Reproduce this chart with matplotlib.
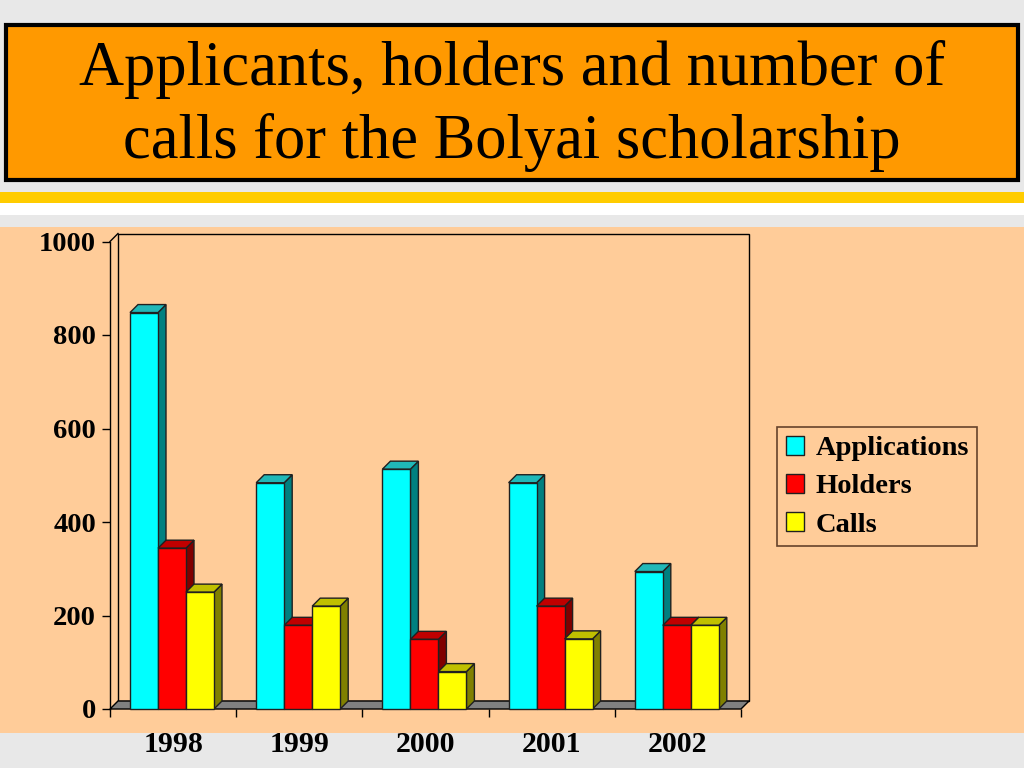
import matplotlib.pyplot as plt
from matplotlib.patches import Rectangle, Polygon, Patch

years = ['1998', '1999', '2000', '2001', '2002']
applications = [848, 484, 513, 484, 294]
holders = [344, 179, 149, 220, 179]
calls = [250, 220, 80, 150, 179]

series = [applications, holders, calls]
names = ['Applications', 'Holders', 'Calls']
front = ['#00FFFF', '#FF0000', '#FFFF00']
side = ['#008080', '#800000', '#808000']
top = ['#20B8B8', '#C00000', '#C0C000']

W, H = 1024, 768
fig = plt.figure(figsize=(W / 100, H / 100), dpi=100)
fig.patch.set_facecolor('#E8E8E8')

# slide decoration
fig.patches.append(Rectangle((0, 1 - 733 / H), 1, (733 - 227) / H, transform=fig.transFigure,
                             facecolor='#FFCC99', edgecolor='none', zorder=-5))
fig.patches.append(Rectangle((0, 1 - 203 / H), 1, 11 / H, transform=fig.transFigure,
                             facecolor='#FFCC00', edgecolor='none', zorder=-5))
fig.patches.append(Rectangle((0, 1 - 215 / H), 1, 12 / H, transform=fig.transFigure,
                             facecolor='white', edgecolor='none', zorder=-5))
fig.patches.append(Rectangle((6 / W, 1 - 180 / H), 1012 / W, 155 / H, transform=fig.transFigure,
                             facecolor='#FF9900', edgecolor='black', lw=3, zorder=-5))
fig.text(512 / W, 1 - 106 / H, 'Applicants, holders and number of\ncalls for the Bolyai scholarship',
         ha='center', va='center', fontsize=45, family='Liberation Serif', linespacing=1.3)

ax = fig.add_axes([110 / W, 1 - 709 / H, 631 / W, 467.5 / H])
ax.set_xlim(0, 5)
ax.set_ylim(0, 1000)
ax.patch.set_alpha(0)

px_x = 631 / 5.0
px_y = 467.5 / 1000.0
dx = 8 / px_x
dy = 8 / px_y

# back wall and floor
ax.add_patch(Rectangle((dx, dy), 5, 1000, facecolor='#FFCC99', edgecolor='black',
                       lw=1, clip_on=False, zorder=1))
ax.add_patch(Polygon([(0, 0), (5, 0), (5 + dx, dy), (dx, dy)], closed=True,
                     facecolor='#808080', edgecolor='black', lw=1, clip_on=False, zorder=2))
ax.plot([0, dx], [1000, 1000 + dy], color='black', lw=1, clip_on=False, zorder=2)

bw = 28 / px_x
off = 20 / px_x
for i in range(len(years)):
    for j, vals in enumerate(series):
        x0 = i + off + j * bw
        v = vals[i]
        z = 3 + j * 0.1
        ax.bar(x0, v, width=bw, align='edge', color=front[j], edgecolor='#202020',
               lw=1, zorder=z + 0.05, clip_on=False)
        ax.add_patch(Polygon([(x0 + bw, 0), (x0 + bw + dx, dy), (x0 + bw + dx, v + dy), (x0 + bw, v)],
                             closed=True, facecolor=side[j], edgecolor='#202020', lw=1,
                             zorder=z, clip_on=False))
        ax.add_patch(Polygon([(x0, v), (x0 + dx, v + dy), (x0 + bw + dx, v + dy), (x0 + bw, v)],
                             closed=True, facecolor=top[j], edgecolor='#202020', lw=1,
                             zorder=z, clip_on=False))

for s in ['top', 'right', 'bottom']:
    ax.spines[s].set_visible(False)
ax.spines['left'].set_linewidth(1)

ax.set_yticks(range(0, 1001, 200))
ax.tick_params(axis='y', length=6, width=1, pad=4)
ax.set_xticks(range(0, 6))
ax.set_xticklabels([])
ax.tick_params(axis='x', which='major', length=6, width=1)
ax.set_xticks([i + 0.5 for i in range(5)], minor=True)
ax.set_xticklabels(years, minor=True)
ax.tick_params(axis='x', which='minor', length=0, pad=16)
for lab in ax.get_yticklabels() + ax.get_xticklabels(minor=True):
    lab.set_family('Liberation Serif')
    lab.set_fontweight('bold')
for lab in ax.get_yticklabels():
    lab.set_fontsize(20.5)
for lab in ax.get_xticklabels(minor=True):
    lab.set_fontsize(21.5)

handles = [Patch(facecolor=front[j], edgecolor='#202020', label=names[j]) for j in range(3)]
leg = fig.legend(handles=handles, loc='upper left', bbox_to_anchor=(777 / W, 1 - 427 / H),
                 bbox_transform=fig.transFigure, frameon=True, fancybox=False,
                 prop={'family': 'Liberation Serif', 'weight': 'bold', 'size': 20.5},
                 handlelength=0.65, handleheight=0.65, handletextpad=0.4, labelspacing=0.45,
                 borderpad=0.3, borderaxespad=0)
leg.get_frame().set_facecolor('#FFCC99')
leg.get_frame().set_edgecolor('#402010')
leg.get_frame().set_linewidth(1.2)

fig.savefig('out.png', dpi=100, facecolor=fig.get_facecolor())
